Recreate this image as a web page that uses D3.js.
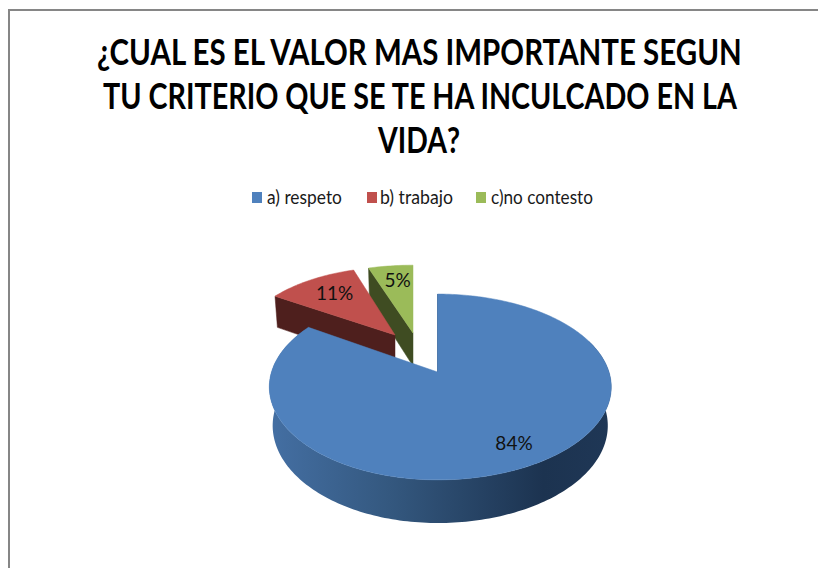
<!DOCTYPE html>
<html><head><meta charset="utf-8">
<script src="https://cdn.jsdelivr.net/npm/d3@7/dist/d3.min.js"></script>
<style>html,body{margin:0;padding:0;background:#fff}svg{display:block}</style>
</head><body><svg id="c" width="818" height="568"></svg>
<script>
const titleLines = ["¿CUAL ES EL VALOR MAS IMPORTANTE SEGUN","TU CRITERIO QUE SE TE HA INCULCADO EN LA","VIDA?"];
const categories = ["a) respeto","b) trabajo","c)no contesto"];
const values = [84,11,5];
const labels = ["84%","11%","5%"];
const colors = ["#4f81bd","#c0504d","#9bbb59"];
const wallColors = ["#1d3350","#4e1f1d","#3f4c22"];
// layout
const font = "Lato,'Open Sans',sans-serif";
const ox=437.5, oy=372, Rr=171.5, Rl=166, C=90.5, A=0.161, depth=38, lowScale=0.98;
const shiftX=[0,-42.5,-24.5], shiftY=[0,-37,-39], scaleX=[1,0.93,1], scaleY=[1,0.87,0.87], labelR=[0.8,0.72,0.75];

const svg=d3.select("#c");
const defs=svg.append("defs");
const grad=defs.append("linearGradient").attr("id","wall").attr("gradientUnits","userSpaceOnUse")
  .attr("x1",270).attr("x2",612).attr("y1",0).attr("y2",0);
[[0,"#446fa3"],[0.35,"#34587f"],[0.8,"#1c3350"],[1,"#1f3756"]].forEach(s=>grad.append("stop").attr("offset",s[0]).attr("stop-color",s[1]));

svg.append("path").attr("d","M818,10H9V568").attr("fill","none").attr("stroke","#868686").attr("stroke-width",2);

// place text so that it spans [x0,x1] exactly, by horizontal scaling
function fit(sel,span,base){
  sel.each(function(d,i){
    const w=this.getComputedTextLength();
    d3.select(this).attr("transform",`translate(${span[i][0]},${base[i]}) scale(${(span[i][1]-span[i][0])/w},1)`);
  });
}
const titleBase=[65,109,153], titleSpan=[[97,742],[103,737],[378,460]];
svg.selectAll("text.title").data(titleLines).join("text").attr("class","title")
  .attr("font-family",font).attr("font-weight","bold").attr("font-size",37).attr("fill","#000").text(d=>d)
  .call(fit,titleSpan,titleBase);

const legendBox=[252,367,476], legendText=[[267,342],[380,453],[491,593]];
const lg=svg.selectAll("g.lg").data(categories).join("g").attr("class","lg");
lg.append("rect").attr("x",(d,i)=>legendBox[i]).attr("y",192).attr("width",10).attr("height",11).attr("fill",(d,i)=>colors[i]);
svg.selectAll("text.lgt").data(categories).join("text").attr("class","lgt")
  .attr("font-family",font).attr("font-size",19).attr("fill","#1a1a1a").text(d=>d)
  .call(fit,legendText,[204,204,204]);

// perspective projection of a point in the pie plane, with a slice's own offset and scale
function proj(u,v,low,i){
  const w=1+A*v; let X=(u>0?Rr:Rl)*u/w, Y=-C*v/w;
  if(low){X*=lowScale;Y=Y*lowScale+depth/w;}
  return [ox+shiftX[i]+scaleX[i]*X, oy+shiftY[i]+scaleY[i]*Y];
}
const arcs=d3.pie().sort(null).value(d=>d)(values);
const line=d3.line();
function rim(a0,a1,low,i){
  const n=Math.max(2,Math.ceil(Math.abs(a1-a0)/0.02));
  return d3.range(n+1).map(k=>{const t=a0+(a1-a0)*k/n;return proj(Math.sin(t),Math.cos(t),low,i);});
}
function radialWall(t,i){
  const p=[proj(0,0,false,i),proj(Math.sin(t),Math.cos(t),false,i),proj(Math.sin(t),Math.cos(t),true,i),proj(0,0,true,i)];
  svg.append("path").attr("d",line(p)+"Z").attr("fill",wallColors[i]).attr("stroke",wallColors[i]).attr("stroke-width",.5);
}
function topFace(i){
  const a=arcs[i];
  const p=[proj(0,0,false,i),...rim(a.startAngle,a.endAngle,false,i)];
  svg.append("path").attr("d",line(p)+"Z").attr("fill",colors[i]).attr("stroke",colors[i]).attr("stroke-width",.5);
}
// back to front: green, red, blue
[2,1].forEach(i=>{radialWall(arcs[i].startAngle,i);topFace(i);});

radialWall(0,0);
const blue=arcs[0];
const wallTop=rim(1.2,blue.endAngle,false,0), wallLow=rim(1.2,blue.endAngle,true,0).reverse();
svg.append("path").attr("d",line(wallTop.concat(wallLow))+"Z").attr("fill","url(#wall)");
topFace(0);

svg.selectAll("text.lbl").data(arcs).join("text").attr("class","lbl")
  .attr("text-anchor","middle").attr("font-family",font).attr("font-size",19).attr("fill","#111")
  .each(function(d,i){
    const m=(d.startAngle+d.endAngle)/2;
    const p=proj(labelR[i]*Math.sin(m),labelR[i]*Math.cos(m),false,i);
    d3.select(this).attr("x",p[0]+(i?2:2)).attr("y",p[1]+6);
  }).text((d,i)=>labels[i]);
</script></body></html>
